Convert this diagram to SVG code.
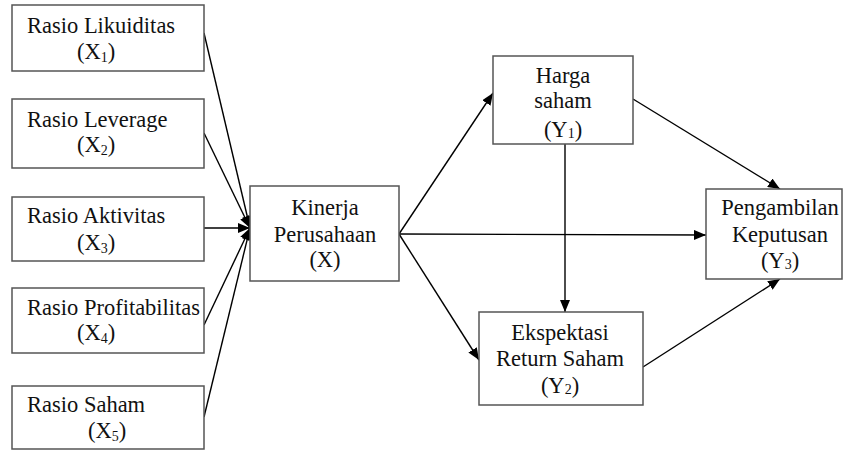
<svg xmlns="http://www.w3.org/2000/svg" width="846" height="450" viewBox="0 0 846 450">
<defs>
<marker id="ah" viewBox="0 0 12 10" refX="12" refY="5" markerWidth="12" markerHeight="10" markerUnits="userSpaceOnUse" orient="auto">
<path d="M0,0 L12,5 L0,10 z" fill="#000"/>
</marker>
<style>
.box{fill:#fff;stroke:#555;stroke-width:1.5}
.t{font-size:22.5px;fill:#111}
.c{text-anchor:middle}
.sub{font-size:14px}
.ln{stroke:#000;stroke-width:1.4;fill:none;marker-end:url(#ah)}
</style>
</defs>
<rect width="846" height="450" fill="#fff"/>
<g id="connectors">
<line class="ln" x1="204" y1="33" x2="250" y2="228"/>
<line class="ln" x1="204" y1="133" x2="250" y2="228"/>
<line class="ln" x1="204" y1="228" x2="250" y2="228"/>
<line class="ln" x1="204" y1="325" x2="250" y2="228"/>
<line class="ln" x1="204" y1="417" x2="250" y2="228"/>
<line class="ln" x1="399" y1="234" x2="493" y2="93"/>
<line class="ln" x1="399" y1="234" x2="706" y2="235"/>
<line class="ln" x1="399" y1="234" x2="479" y2="360"/>
<line class="ln" x1="565" y1="144" x2="565" y2="312"/>
<line class="ln" x1="633" y1="99" x2="780" y2="189"/>
<line class="ln" x1="643" y1="367" x2="780" y2="279"/>
</g>
<g font-family="'Liberation Serif', 'DejaVu Serif', serif">
<g id="x1">
<rect class="box" x="12" y="5" width="192" height="66"/>
<text class="t" x="27" y="33">Rasio Likuiditas</text>
<text class="t" x="77" y="59">(X<tspan class="sub" dy="3">1</tspan><tspan dy="-3">)</tspan></text>
</g>
<g id="x2">
<rect class="box" x="12" y="99" width="192" height="69"/>
<text class="t" x="27" y="127">Rasio Leverage</text>
<text class="t" x="77" y="152">(X<tspan class="sub" dy="3">2</tspan><tspan dy="-3">)</tspan></text>
</g>
<g id="x3">
<rect class="box" x="12" y="197" width="192" height="64"/>
<text class="t" x="27" y="223">Rasio Aktivitas</text>
<text class="t" x="77" y="250">(X<tspan class="sub" dy="3">3</tspan><tspan dy="-3">)</tspan></text>
</g>
<g id="x4">
<rect class="box" x="12" y="288" width="192" height="65"/>
<text class="t" x="27" y="315">Rasio Profitabilitas</text>
<text class="t" x="77" y="340">(X<tspan class="sub" dy="3">4</tspan><tspan dy="-3">)</tspan></text>
</g>
<g id="x5">
<rect class="box" x="12" y="386" width="192" height="63"/>
<text class="t" x="27" y="412">Rasio Saham</text>
<text class="t" x="88" y="438">(X<tspan class="sub" dy="3">5</tspan><tspan dy="-3">)</tspan></text>
</g>
<g id="kinerja">
<rect class="box" x="250" y="186" width="149" height="95"/>
<text class="t c" x="325" y="215">Kinerja</text>
<text class="t c" x="325" y="242">Perusahaan</text>
<text class="t c" x="325" y="267">(X)</text>
</g>
<g id="y1">
<rect class="box" x="493" y="56" width="140" height="88"/>
<text class="t c" x="563" y="83">Harga</text>
<text class="t c" x="563" y="108">saham</text>
<text class="t c" x="563" y="137">(Y<tspan class="sub" dy="1">1</tspan><tspan dy="-1">)</tspan></text>
</g>
<g id="y2">
<rect class="box" x="479" y="312" width="164" height="93"/>
<text class="t c" x="560" y="340">Ekspektasi</text>
<text class="t c" x="560" y="366">Return Saham</text>
<text class="t c" x="560" y="393">(Y<tspan class="sub" dy="1">2</tspan><tspan dy="-1">)</tspan></text>
</g>
<g id="y3">
<rect class="box" x="706" y="189" width="136" height="90"/>
<text class="t c" x="780" y="215">Pengambilan</text>
<text class="t c" x="780" y="242">Keputusan</text>
<text class="t c" x="780" y="268">(Y<tspan class="sub" dy="1">3</tspan><tspan dy="-1">)</tspan></text>
</g>
</g>
</svg>
